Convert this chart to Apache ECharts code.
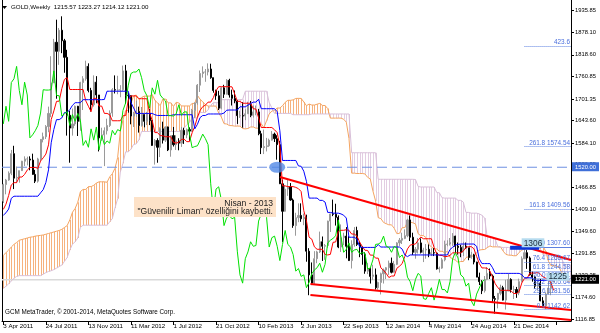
<!DOCTYPE html>
<html><head><meta charset="utf-8">
<script src="https://cdn.jsdelivr.net/npm/echarts@6/dist/echarts.min.js"></script>
<style>html,body{margin:0;padding:0;background:#fff}#c{width:600px;height:333px}</style>
</head><body><div id="c"></div>
<script>
const symbolName = 'GOLD,Weekly';
const tickLabels = ['3 Apr 2011','24 Jul 2011','13 Nov 2011','11 Mar 2012','1 Jul 2012','21 Oct 2012','10 Feb 2013','2 Jun 2013','22 Sep 2013','12 Jan 2014','4 May 2014','24 Aug 2014','21 Dec 2014'];
const yTicks = [1935.85,1878.10,1818.60,1760.85,1701.35,1643.60,1584.10,1526.35,1466.85,1409.10,1349.60,1291.85,1233.35,1174.60,1116.85];

const opens = [1430,1474,1486,1504,1556,1491,1493,1511,1536,1542,1542,1539,1501,1483,1542,1594,1601,1628,1663,1744,1852,1828,1884,1856,1812,1658,1624,1635,1682,1642,1745,1755,1788,1724,1686,1746,1712,1598,1606,1617,1631,1664,1726,1725,1725,1726,1776,1711,1710,1656,1662,1668,1631,1660,1642,1663,1644,1578,1591,1573,1622,1592,1627,1566,1604,1580,1590,1584,1618,1606,1620,1616,1671,1691,1738,1769,1773,1773,1781,1758,1724,1710,1677,1731,1714,1751,1712,1703,1696,1657,1657,1656,1662,1686,1658,1667,1667,1609,1572,1575,1577,1592,1608,1596,1580,1476,1403,1462,1468,1433,1365,1386,1392,1383,1387,1297,1234,1212,1277,1295,1322,1310,1312,1377,1396,1395,1387,1308,1333,1337,1310,1272,1315,1352,1315,1308,1288,1244,1251,1230,1234,1200,1214,1237,1247,1253,1265,1241,1262,1319,1326,1331,1338,1380,1334,1294,1302,1319,1294,1300,1302,1290,1293,1292,1250,1252,1274,1315,1316,1320,1337,1310,1307,1294,1310,1306,1280,1287,1268,1228,1216,1192,1222,1238,1231,1171,1169,1185,1200,1167,1191,1222,1195,1195,1186,1216,1277,1293,1279,1234,1228,1204,1212,1165,1152,1183,1199,1215.57];
const highs = [1476,1489,1509,1566,1577,1522,1511,1537,1549,1548,1549,1556,1513,1545,1595,1612,1632,1681,1815,1861,1912,1890,1921,1861,1832,1670,1676,1684,1683,1747,1762,1803,1796,1731,1764,1762,1712,1625,1626,1649,1671,1730,1764,1763,1738,1790,1792,1717,1711,1667,1697,1681,1680,1660,1667,1675,1645,1595,1597,1626,1641,1628,1628,1604,1627,1605,1597,1627,1625,1623,1626,1675,1692,1741,1777,1788,1781,1796,1795,1758,1726,1723,1734,1739,1754,1755,1726,1724,1698,1670,1693,1674,1694,1696,1684,1684,1675,1617,1620,1598,1596,1616,1612,1605,1590,1487,1472,1488,1478,1437,1399,1424,1424,1397,1394,1305,1267,1297,1298,1349,1336,1316,1378,1397,1434,1423,1392,1368,1346,1361,1337,1326,1361,1362,1323,1310,1294,1266,1253,1261,1251,1216,1240,1251,1255,1272,1280,1271,1321,1332,1346,1355,1383,1392,1346,1308,1332,1331,1306,1316,1315,1305,1305,1294,1256,1279,1325,1326,1332,1345,1338,1320,1314,1322,1320,1306,1295,1290,1269,1240,1220,1231,1255,1251,1235,1178,1186,1208,1205,1221,1238,1225,1205,1202,1224,1283,1307.6,1300,1283,1243,1232,1220,1223,1175,1188,1220,1224,1223.27];
const lows = [1425,1448,1484,1499,1462,1478,1479,1510,1523,1525,1512,1518,1478,1479,1537,1586,1595,1613,1653,1744,1702,1792,1823,1771,1604,1532,1604,1630,1603,1617,1672,1750,1719,1668,1681,1690,1562,1590,1523,1607,1627,1654,1716,1714,1706,1723,1688,1665,1634,1627,1654,1612,1628,1626,1632,1632,1577,1527,1532,1547,1583,1587,1563,1548,1575,1566,1565,1574,1582,1597,1590,1614,1651,1686,1720,1758,1747,1764,1755,1718,1699,1672,1674,1704,1713,1705,1684,1690,1635,1651,1625,1645,1662,1653,1652,1658,1605,1555,1555,1562,1574,1591,1587,1540,1476,1321,1402,1444,1431,1359,1338,1374,1375,1366,1269,1180,1207,1209,1265,1292,1271,1274,1306,1348,1390,1365,1305,1295,1313,1278,1271,1251,1309,1311,1281,1261,1237,1236,1211,1221,1195,1195,1182,1211,1223,1234,1238,1240,1260,1311,1316,1329,1334,1324,1287,1277,1291,1291,1268,1277,1281,1284,1284,1248,1240,1250,1270,1310,1312,1311,1292,1288,1281,1284,1303,1273,1277,1262,1228,1207,1183,1187,1220,1223,1161,1131,1145,1180,1166,1142,1191,1187,1170,1173,1180,1214,1276,1250,1232,1216,1197,1192,1164,1150,1142.62,1182,1180,1214.12];
const closes = [1474,1486,1504,1556,1491,1493,1511,1536,1542,1542,1539,1501,1483,1542,1594,1601,1628,1663,1744,1852,1828,1884,1856,1812,1658,1624,1635,1682,1642,1745,1755,1788,1724,1686,1746,1712,1598,1606,1617,1631,1664,1726,1725,1725,1726,1776,1711,1710,1656,1662,1668,1631,1660,1642,1663,1644,1578,1591,1573,1622,1592,1627,1566,1604,1580,1590,1584,1618,1606,1620,1616,1671,1691,1738,1769,1773,1773,1781,1758,1724,1710,1677,1731,1714,1751,1712,1703,1696,1657,1657,1656,1662,1686,1658,1667,1667,1609,1572,1575,1577,1592,1608,1596,1580,1476,1403,1462,1468,1433,1365,1386,1392,1383,1387,1297,1234,1212,1277,1295,1322,1310,1312,1377,1396,1395,1387,1308,1333,1337,1310,1272,1315,1352,1315,1308,1288,1244,1251,1230,1234,1200,1214,1237,1247,1253,1265,1241,1262,1319,1326,1331,1338,1380,1334,1294,1302,1319,1294,1300,1302,1290,1293,1292,1250,1252,1274,1315,1316,1320,1337,1310,1307,1294,1310,1306,1280,1287,1268,1228,1216,1192,1222,1238,1231,1171,1169,1185,1200,1167,1191,1222,1195,1195,1186,1216,1277,1293,1279,1234,1228,1204,1212,1165,1152,1183,1199,1215.57,1221.00];

const tenkan = [1408,1422,1445,1473,1479,1479,1494,1494,1501,1512.5,1519.5,1519.5,1519.5,1517,1536.5,1545,1555,1579.5,1646.5,1669.5,1695,1695.5,1729,1753.5,1758,1726.5,1726.5,1726.5,1726.5,1726.5,1726.5,1696.5,1682,1667.5,1703,1703,1682.5,1682.5,1663,1663,1659.5,1643.5,1643.5,1643.5,1643.5,1656.5,1657.5,1699.5,1709.5,1709.5,1709.5,1702,1702,1702,1702,1664.5,1644,1612,1612,1604,1603.5,1601,1601,1601,1586,1584,1586.5,1594,1594.5,1588,1588,1611.5,1628.5,1653,1671,1681,1685,1693,1693,1705,1723.5,1734,1734,1734,1734,1734,1733.5,1715,1695,1695,1690,1690,1690,1690,1675.5,1674.5,1651.5,1625.5,1625.5,1625.5,1625.5,1625.5,1619.5,1612,1575.5,1470.5,1470.5,1468.5,1468.5,1468.5,1466.5,1463,1455.5,1404.5,1378.5,1334,1329,1308.5,1302,1302,1302,1288.5,1287,1288.5,1320.5,1321.5,1349.5,1352.5,1352.5,1354,1352.5,1342.5,1342.5,1337,1321.5,1309.5,1299.5,1299,1286.5,1286.5,1278.5,1278.5,1252.5,1246,1238,1227,1231,1231,1251.5,1257,1264,1283,1303,1313,1315,1316,1326,1334.5,1330,1330,1330,1330,1307,1290,1286,1285.5,1282.5,1283,1286,1292.5,1292.5,1292.5,1292.5,1297.5,1307.5,1309,1309,1303.5,1283,1264.5,1252.5,1252.5,1251.5,1244.5,1228,1210.5,1200,1193,1193,1193,1193,1191,1184.5,1184.5,1190,1212.5,1224.8,1224.8,1238.8,1238.8,1238.8,1240.3,1235.8,1228.8,1225.1,1221.3,1212.8,1192.8];
const kijun = [1392.5,1399,1409,1437.5,1443,1443,1443,1443,1443,1443,1443,1443,1443,1443,1452,1460.5,1479.5,1513,1585,1620.5,1646.5,1646.5,1651,1665.5,1665.5,1673,1684.5,1691.5,1691.5,1691.5,1699.5,1699.5,1699.5,1699.5,1699.5,1699.5,1699.5,1699.5,1700,1722,1722,1722,1722,1722,1722,1722,1722,1722,1692,1677.5,1663,1663,1663,1663,1663,1663,1663,1659.5,1657.5,1657.5,1657.5,1657.5,1657.5,1657.5,1659.5,1659.5,1659.5,1659.5,1659.5,1659.5,1659.5,1659.5,1622,1634,1652,1657.5,1657.5,1661.5,1661.5,1661.5,1661.5,1661.5,1661.5,1664,1671.5,1672,1672,1672,1672,1680.5,1680.5,1680.5,1685,1689,1693,1693,1700.5,1675.5,1675.5,1675.5,1675.5,1675.5,1675.5,1667.5,1617,1538,1538,1538,1538,1538,1538,1523.5,1522.5,1509.5,1482.5,1438,1438,1438,1438,1432,1432,1427.5,1400,1400,1398,1398,1398,1396,1392.5,1385,1334,1334,1334,1329,1308.5,1307,1307,1307,1307,1307,1307,1314.5,1308,1308,1308,1308,1308,1308,1308,1308,1302.5,1287,1282.5,1287,1287,1287,1287,1287,1287,1287,1287,1287,1287,1287,1287,1287,1287,1287,1301.5,1307.5,1313,1315,1316,1316,1316,1316,1316,1316,1310,1276.5,1264,1264,1264,1264,1253,1238,1238,1238,1238,1238,1238,1238,1238,1238,1238,1234.5,1226.5,1226.5,1226.5,1225.5,1219.3,1219.3,1219.3,1219.3,1219.3,1219.3,1219.3,1219.3];

const spanA = [1286,1293,1300,1308,1315,1320,1326,1328,1330,1332,1334,1335,1337,1338,1339,1340,1342,1344,1346,1348,1350,1352,1355,1360,1365,1380,
1400.3,1410.5,1427,1455.3,1461,1461,1468.5,1468.5,1472,1477.8,1481.3,1481.3,1481.3,1480,1494.3,1502.8,1517.3,1546.3,1615.8,1645,1670.8,1671,1690,1709.5,1711.8,1699.8,1705.5,1709,1709,1709,1713,1698,1690.8,1683.5,1701.3,1701.3,1691,1691,1681.5,1692.5,1690.8,1682.8,1682.8,1682.8,1682.8,1689.3,1689.8,1710.8,1700.8,1693.5,1686.3,1682.5,1682.5,1682.5,1682.5,1663.8,1653.5,1635.8,1634.8,1630.8,1630.5,1629.3,1629.3,1629.3,1622.8,1621.8,1623,1626.8,1627,1623.8,1623.8,1635.5,1625.3,1643.5,1661.5,1669.3,1671.3,1677.3,1677.3,1683.3,1692.5,1697.8,1697.8,1699,1702.8,1703,1702.8,1693.5,1683.5,1687.8,1685.3,1685.3,1687.5,1689.5,1684.3,1683.8,1676,1650.5,1650.5,1650.5,1650.5,1650.5,1647.5,1639.8,1596.3,1504.3,1504.3,1503.3,1503.3,1503.3,1502.3,1493.3,1489,1457,1430.5,1386,1383.5,1373.3,1370,1367,1367,1358,1343.5,1344.3,1359.3,1359.8,1373.8,1374.3,1372.5,1369.5,1343.3,1338.3,1338.3,1333,1315,1308.3,1303.3,1303,1296.8,1296.8,1292.8,1296.5,1280.3,1277,1273,1267.5,1269.5,1269.5,1279.8,1282.5,1283.3,1285,1292.8,1300,1301,1301.5,1306.5,1310.8,1308.5,1308.5,1308.5,1308.5,1297,1288.5,1286.5,1286.3,1284.8,1285,1293.8,1300,1302.8,1303.8,1304.3,1306.8,1311.8,1312.5,1312.5,1309.8,1296.5,1270.5,1258.3,1258.3,1257.8,1254.3,1240.5,1224.3,1219,1215.5];
const spanB = [1198,1204,1210,1218,1225,1230,1232,1232,1232,1232,1232,1232,1232,1232,1232,1236,1240,1243,1245,1248,1252,1256,1260,1270,1280,1300,
1315.5,1322,1332,1360.5,1366,1366,1366,1366,1366,1366,1366,1366,1366,1366,1375,1383.5,1412,1436.5,1507.5,1530.5,1561,1561,1568,1580.5,1582,1593,1615,1615,1615,1615,1615,1615,1615,1615,1615,1615,1615,1615,1615,1615,1615,1615,1624,1633,1638,1651,1651,1651,1665.5,1665.5,1665.5,1673,1684.5,1691.5,1691.5,1691.5,1699.5,1699.5,1699.5,1699.5,1699.5,1699.5,1699.5,1699.5,1700,1722,1722,1722,1722,1722,1722,1722,1722,1722,1692,1677.5,1663,1663,1663,1663,1663,1663,1663,1659.5,1659.5,1659.5,1659.5,1659.5,1659.5,1659.5,1661.5,1661.5,1661.5,1661.5,1661.5,1661.5,1661.5,1661.5,1661.5,1661.5,1661.5,1661.5,1661.5,1661.5,1661.5,1558.5,1558.5,1558.5,1558.5,1558.5,1558.5,1558.5,1558.5,1558.5,1558.5,1488,1488,1488,1488,1488,1488,1488,1488,1488,1488,1488,1488,1488,1488,1487.5,1469,1467.5,1467.5,1467.5,1467.5,1467.5,1467.5,1453,1452,1439,1438,1438,1438,1438,1438,1432,1432,1427.5,1400,1400,1398,1398,1398,1396,1392.5,1385,1334,1334,1334,1329,1308.5,1307,1307,1307,1307,1307,1307,1308,1308,1308,1308,1308,1308,1308,1308,1308,1302.5,1287,1287,1287,1287,1287,1287,1287,1276.5,1261.5,1261.5,1261.5];

const fibLevels = [1142.62,1181.56,1205.64,1225.11,1244.58,1268.67,1307.60,1409.56,1574.54,1841.47];
const fibLabels = ['0.0 1142.62','23.6 1181.56','38.2 1205.64','50.0 1225.11','61.8 1244.58','76.4 1268.67','100.0 1307.60','161.8 1409.56','261.8 1574.54','423.6'];
const fibStartBar = 196;
const supportLevel = 1520.00;
const trendUpper = [[104.05,1494],[213.5,1273.6]];
const channelTop = [[115.5,1209.8],[213.5,1140.7]];
const channelBottom = [[115.5,1180.6],[213.5,1114.2]];
const markLevel = 1306, markFrom = 190.6, markTo = 201.5;
const noteLines = ['Nisan - 2013','"Güvenilir Liman" özelliğini kaybetti.'];
const copyright = 'GCM MetaTrader, © 2001-2014, MetaQuotes Software Corp.';

const N = 214;
const last = closes.length - 1;
const bidPrice = closes[last];
const cats = Array.from({length: N}, (_, i) => String(i));
const axisFont = "'Liberation Sans',sans-serif";
const chart = echarts.init(document.getElementById('c'));
const xv = {xAxisIndex: 1, yAxisIndex: 0};
const lineS = (data, color, width, z, extra) => Object.assign({type:'line', ...xv, data, showSymbol:false, symbol:'none', silent:true, z, lineStyle:{color, width}}, extra || {});

chart.setOption({
  animation: false,
  grid: {left: 2, right: 29, top: 0, bottom: 12},
  xAxis: [
    {type:'category', data: cats, boundaryGap: true,
     axisLine:{show:true, lineStyle:{color:'#000', width:1}},
     axisTick:{show:true, alignWithLabel:true, length:4, interval:(i)=> i % 16 === 0, lineStyle:{color:'#000'}},
     axisLabel:{interval:(i)=> i % 16 === 0, formatter:(v, i)=> tickLabels[i/16] || '', align:'left', margin:2, fontSize:6.2, color:'#000', fontFamily: axisFont},
     splitLine:{show:false}},
    {type:'value', min:-0.5, max:N-0.5, show:false}
  ],
  yAxis: [
    {type:'value', position:'right', min:1111.5, max:1964.3,
     axisLine:{show:true, onZero:false, lineStyle:{color:'#000', width:1}},
     axisTick:{show:true, length:3, customValues: yTicks, lineStyle:{color:'#000'}},
     axisLabel:{customValues: yTicks, formatter:(v)=> v.toFixed(2), fontSize:5.8, color:'#000', margin:4, fontFamily: axisFont},
     splitLine:{show:false}},
    {type:'value', position:'left', min:1111.5, max:1964.3,
     axisLine:{show:true, onZero:false, lineStyle:{color:'#000', width:1}},
     axisTick:{show:false}, axisLabel:{show:false}, splitLine:{show:false}}
  ],
  series: [
    {type:'custom', ...xv, z:1, silent:true, clip:true,
     data: spanA.map((a, j) => [j, a, spanB[j]]),
     renderItem: (params, api) => {
       const a = api.value(1), b = api.value(2);
       const p1 = api.coord([api.value(0), a]), p2 = api.coord([api.value(0), b]);
       const x = Math.round(p1[0]) + 0.5;
       return {type:'line', shape:{x1:x, y1:p1[1], x2:x, y2:p2[1]}, style:{stroke: a >= b ? '#f6b27e' : '#e2cde2', lineWidth:1}};
     }},
    lineS(spanA.map((v, i) => [i, v]), '#f4a460', 1, 2),
    lineS(spanB.map((v, i) => [i, v]), '#d8bfd8', 1, 2),
    lineS([[-0.5, bidPrice], [N-0.5, bidPrice]], '#d9d9d9', 1.5, 1),
    lineS([[-0.5, supportLevel], [N-0.5, supportLevel]], '#6f90e2', 1, 2, {lineStyle:{color:'#6f90e2', width:1, type:[10,5]}}),
    {type:'candlestick', xAxisIndex:0, yAxisIndex:0, z:3, silent:true, barWidth:1.6,
     data: opens.map((o, i) => [o, closes[i], lows[i], highs[i]]),
     itemStyle:{color:'#9a9a9a', color0:'#000000', borderColor:'#9a9a9a', borderColor0:'#000000', borderWidth:1}},
    lineS(tenkan.map((v, i) => [i, v]), '#ff0000', 1, 4),
    lineS(kijun.map((v, i) => [i, v]), '#0000ff', 1, 4),
    lineS(closes.slice(26).map((v, k) => [k, v]), '#00e000', 1, 4),
    lineS(trendUpper, '#ff0000', 2, 6),
    lineS(channelTop, '#ff0000', 2, 6),
    lineS(channelBottom, '#ff0000', 2, 6),
    lineS([[markFrom, markLevel], [markTo, markLevel]], '#0c34d8', 4, 6),
    {type:'line', ...xv, data:[], z:5, silent:true,
     markLine:{silent:true, symbol:['none','none'], label:{show:false},
       data: fibLevels.map((v, k) => [{coord:[fibStartBar, v], lineStyle:{type: k === 6 ? 'solid' : 'dotted', color:'#5d80e0', width:1}}, {coord:[N-0.5, v]}])}},
    {type:'scatter', ...xv, z:7, silent:true, data:[[103, supportLevel]], symbol:'circle', symbolSize:[16,11], itemStyle:{color:'#5389e6'}}
  ]
});

const py = v => chart.convertToPixel({yAxisIndex:0}, v);
const pp = (x, v) => chart.convertToPixel(xv, [x, v]);
const gr = [];
gr.push({type:'polygon', shape:{points:[[2,6],[7,6],[4.5,9]]}, style:{fill:'#000'}, z:20});
gr.push({type:'text', x:11, y:4, style:{text: symbolName + '  ' + [opens[last], highs[last], lows[last], closes[last]].map(v => v.toFixed(2)).join(' '), font:"6.2px " + axisFont, fill:'#000'}, z:20});
gr.push({type:'text', x:5, y:309, style:{text: copyright, font:"6.3px " + axisFont, fill:'#000'}, z:20});
gr.push({type:'rect', shape:{x:134, y:197, width:142, height:20}, style:{fill:'#fde2c8'}, z:18});
gr.push({type:'text', x:273, y:199, style:{text: noteLines[0], font:"8.6px 'Liberation Sans',sans-serif", fill:'#222', align:'right'}, z:19});
gr.push({type:'text', x:273, y:207.5, style:{text: noteLines[1], font:"8.6px 'Liberation Sans',sans-serif", fill:'#222', align:'right'}, z:19});
fibLevels.forEach((v, k) => {
  const y = py(v);
  gr.push({type:'text', x:570, y: y - 0.5, style:{text: fibLabels[k], font:"6.4px 'Liberation Sans',sans-serif", fill:'#4a6fdc', align:'right', verticalAlign:'bottom'}, z:16});
});
const p1306 = pp(199.2, markLevel);
gr.push({type:'text', x:p1306[0], y:p1306[1] - 0.5, style:{text: String(markLevel), font:"8.4px 'Liberation Sans',sans-serif", fill:'#1a2a3a', align:'center', verticalAlign:'bottom', backgroundColor:'#b5dbef', padding:[1,2,0,2]}, z:21});
const p1225 = pp(208.5, 1225);
gr.push({type:'text', x:p1225[0], y:p1225[1] - 1.5, style:{text: '1225', font:"8.4px 'Liberation Sans',sans-serif", fill:'#1a2a3a', align:'center', verticalAlign:'middle', backgroundColor:'#b5dbef', padding:[0,2,0,2]}, z:21});
const ySup = py(supportLevel);
gr.push({type:'rect', shape:{x:572, y:ySup-5, width:27, height:9}, style:{fill:'#3f6fd8'}, z:22});
gr.push({type:'text', x:575, y:ySup, style:{text: supportLevel.toFixed(2), font:"5.8px " + axisFont, fill:'#fff', verticalAlign:'middle'}, z:23});
const yBid = py(bidPrice);
gr.push({type:'rect', shape:{x:572, y:yBid-5, width:27, height:9}, style:{fill:'#000'}, z:22});
gr.push({type:'text', x:575, y:yBid, style:{text: bidPrice.toFixed(2), font:"5.8px " + axisFont, fill:'#fff', verticalAlign:'middle'}, z:23});
chart.setOption({graphic: gr});
</script></body></html>
